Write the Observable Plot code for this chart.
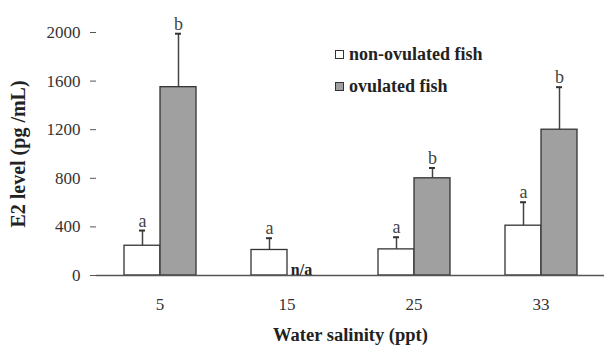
<!DOCTYPE html>
<html>
<head>
<meta charset="utf-8">
<script src="https://cdn.jsdelivr.net/npm/d3@7"></script>
<script src="https://cdn.jsdelivr.net/npm/@observablehq/plot@0.6"></script>
<style>
  html, body { margin: 0; padding: 0; background: #fff; }
  #wrap { position: relative; width: 604px; height: 347px; }
  svg text { font-family: "Liberation Serif", "Times New Roman", serif; }
  g[aria-label="y-axis tick label"] text, g[aria-label="fx-axis tick label"] text { font-size: 17px; fill: #333; }
  g[aria-label="y-axis label"] text { font-weight: bold; font-size: 20px; fill: #222; }
  g[aria-label="fx-axis label"] text { font-weight: bold; font-size: 18.5px; fill: #222; }
  #legend { position: absolute; left: 335px; top: 38px; font-family: "Liberation Serif", "Times New Roman", serif; font-size: 18px; font-weight: bold; color: #222; }
  #legend .row { display: flex; align-items: center; height: 32px; }
  #legend .sw { width: 7px; height: 7px; border: 1px solid #333; margin-right: 5px; }
</style>
</head>
<body>
<div id="wrap"></div>
<script>
const salinity = ["5", "15", "25", "33"];
const groups = ["non-ovulated fish", "ovulated fish"];
const nonMean = [245, 210, 215, 410];
const nonErr = [125, 97, 100, 193];
const ovMean = [1550, null, 800, 1200];
const ovErr = [440, null, 85, 350];
const nonLetters = ["a", "a", "a", "a"];
const ovLetters = ["b", null, "b", "b"];
const naLabel = "n/a";
const naSalinity = "15";
const yTicks = [0, 400, 800, 1200, 1600, 2000];
const groupColors = ["#ffffff", "#a0a0a0"];

const rows = [];
salinity.forEach((s, i) => {
  rows.push({salinity: s, group: groups[0], mean: nonMean[i], top: nonMean[i] + nonErr[i], letter: nonLetters[i]});
  if (ovMean[i] != null) rows.push({salinity: s, group: groups[1], mean: ovMean[i], top: ovMean[i] + ovErr[i], letter: ovLetters[i]});
});
const naRows = [{salinity: naSalinity, group: groups[1], value: 0, text: naLabel}];

const chart = Plot.plot({
  width: 604,
  height: 347,
  marginLeft: 95,
  marginRight: 0,
  marginTop: 32,
  marginBottom: 72,
  style: {fontFamily: "'Liberation Serif', 'Times New Roman', serif", fontSize: "17px", color: "#333", background: "#fff"},
  fx: {domain: salinity, paddingInner: 0, paddingOuter: 0},
  x: {domain: groups, paddingInner: 0, paddingOuter: 0.743, axis: null},
  y: {domain: [0, 2000]},
  color: {domain: groups, range: groupColors},
  marks: [
    Plot.ruleX(rows, {fx: "salinity", x: "group", y1: "mean", y2: "top", stroke: "#444", strokeWidth: 1.5}),
    Plot.tickY(rows, {fx: "salinity", x: "group", y: "top", insetLeft: 15, insetRight: 15, stroke: "#333", strokeWidth: 2}),
    Plot.barY(rows, {fx: "salinity", x: "group", y: "mean", fill: "group", stroke: "#333", strokeWidth: 1.3}),
    Plot.text(rows, {fx: "salinity", x: "group", y: "top", text: "letter", lineAnchor: "bottom", dy: -4, fill: "#444", fontSize: 18}),
    Plot.text(naRows, {fx: "salinity", x: "group", y: "value", text: "text", lineAnchor: "bottom", dy: -1, dx: -4, fill: "#222", fontWeight: "bold", fontSize: 16}),
    Plot.ruleY([0], {stroke: "#555", strokeWidth: 1.5}),
    Plot.axisY({ticks: yTicks, tickFormat: d3.format("d"), tickSize: 6, tickPadding: 10, fontSize: 17, line: true, stroke: "#555", label: "E2 level (pg /mL)", labelAnchor: "center", labelArrow: "none", labelOffset: 86}),
    Plot.axisFx({anchor: "bottom", tickSize: 0, tickPadding: 22, fontSize: 17, label: "Water salinity (ppt)", labelAnchor: "center", labelArrow: "none", labelOffset: 65})
  ]
});
document.getElementById("wrap").appendChild(chart);

const legend = document.createElement("div");
legend.id = "legend";
groups.forEach((g, i) => {
  const row = document.createElement("div");
  row.className = "row";
  const sw = document.createElement("span");
  sw.className = "sw";
  sw.style.background = groupColors[i];
  const t = document.createElement("span");
  t.textContent = g;
  row.appendChild(sw);
  row.appendChild(t);
  legend.appendChild(row);
});
document.getElementById("wrap").appendChild(legend);
</script>
</body>
</html>
